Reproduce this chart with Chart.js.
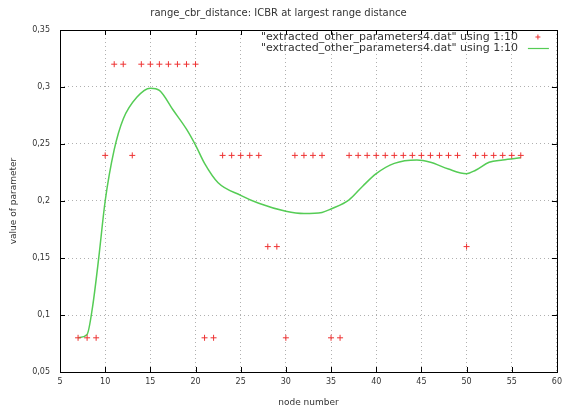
<!DOCTYPE html>
<html>
<head>
<meta charset="utf-8">
<script src="https://cdn.jsdelivr.net/npm/chart.js@4/dist/chart.umd.min.js"></script>
<style>
  html, body { margin: 0; padding: 0; background: #fff; }
  #wrap { width: 567px; height: 412px; }
</style>
</head>
<body>
<div id="wrap"><canvas id="chart" width="567" height="412"></canvas></div>
<script>
const chartTitle = 'range_cbr_distance: ICBR at largest range distance';
const seriesLabel = '"extracted_other_parameters4.dat" using 1:10';

// raw points (red +)
const nodeNumbers = [7, 8, 9, 10, 11, 12, 13, 14, 15, 16, 17, 18, 19, 20, 21, 22, 23, 24, 25, 26, 27, 28, 29, 30, 31,
    32, 33, 34, 35, 36, 37, 38, 39, 40, 41, 42, 43, 44, 45, 46, 47, 48, 49, 50, 51, 52, 53, 54, 55, 56];
const paramValues = [0.08, 0.08, 0.08, 0.24, 0.32, 0.32, 0.24, 0.32, 0.32, 0.32, 0.32, 0.32, 0.32, 0.32, 0.08, 0.08,
    0.24, 0.24, 0.24, 0.24, 0.24, 0.16, 0.16, 0.08, 0.24, 0.24, 0.24, 0.24, 0.08, 0.08,
    0.24, 0.24, 0.24, 0.24, 0.24, 0.24, 0.24, 0.24, 0.24, 0.24, 0.24, 0.24, 0.24, 0.16,
    0.24, 0.24, 0.24, 0.24, 0.24, 0.24];

// smoothed curve (green)
const curveNodes = [7, 8, 8.6, 9.3, 10, 11, 12, 13.5, 15, 16, 17.5, 19, 20, 21, 22.5, 25, 27, 30, 32, 34, 35, 37,
    38.5, 40, 42, 44.5, 46, 48, 50, 51, 52.5, 54, 56];
const curveValues = [0.08, 0.083, 0.107, 0.151, 0.2, 0.245, 0.272, 0.291, 0.299, 0.297, 0.28, 0.263, 0.249, 0.233,
    0.216, 0.205, 0.198, 0.191, 0.189, 0.19, 0.193, 0.201, 0.213, 0.224, 0.233, 0.236, 0.234, 0.228, 0.224, 0.227,
    0.234, 0.236, 0.238];

const xTicks = [5, 10, 15, 20, 25, 30, 35, 40, 45, 50, 55, 60];
const yTicks = [0.05, 0.1, 0.15, 0.2, 0.25, 0.3, 0.35];
const yTickLabels = ['0,05', '0,1', '0,15', '0,2', '0,25', '0,3', '0,35'];

const fontFamily = 'DejaVu Sans';
const textColor = '#333';
const pointColor = '#ee3333';
const lineColor = '#55cc55';

// gnuplot style frame: box, inward ticks on all sides, legend inside top right
const gnuplotFrame = {
    id: 'gnuplotFrame',
    afterDatasetsDraw(chart) {
        const ctx = chart.ctx;
        const a = chart.chartArea;
        const xs = chart.scales.x, ys = chart.scales.y;
        ctx.save();
        ctx.strokeStyle = '#000';
        ctx.lineWidth = 1;
        ctx.strokeRect(Math.round(a.left) + 0.5, Math.round(a.top) + 0.5,
            Math.round(a.right - a.left), Math.round(a.bottom - a.top));
        ctx.beginPath();
        xTicks.forEach(v => {
            const px = Math.round(xs.getPixelForValue(v)) + 0.5;
            ctx.moveTo(px, a.bottom); ctx.lineTo(px, a.bottom - 5);
            ctx.moveTo(px, a.top); ctx.lineTo(px, a.top + 5);
        });
        yTicks.forEach(v => {
            const py = Math.round(ys.getPixelForValue(v)) + 0.5;
            ctx.moveTo(a.left, py); ctx.lineTo(a.left + 5, py);
            ctx.moveTo(a.right, py); ctx.lineTo(a.right - 5, py);
        });
        ctx.stroke();

        // legend
        ctx.font = '11px "' + fontFamily + '"';
        ctx.fillStyle = textColor;
        ctx.textAlign = 'right';
        ctx.textBaseline = 'middle';
        const ds = chart.data.datasets;
        const textRight = a.right - 39;
        ds.forEach((d, i) => {
            const y = a.top + 7 + i * 11;
            ctx.fillText(d.label, textRight, y);
            if (d.showLine) {
                ctx.strokeStyle = d.borderColor;
                ctx.lineWidth = 1.2;
                ctx.beginPath();
                ctx.moveTo(textRight + 10, y + 0.5);
                ctx.lineTo(textRight + 31, y + 0.5);
                ctx.stroke();
            } else {
                ctx.strokeStyle = d.borderColor;
                ctx.lineWidth = 1;
                const cx = textRight + 20;
                ctx.beginPath();
                ctx.moveTo(cx - 2.5, y); ctx.lineTo(cx + 2.5, y);
                ctx.moveTo(cx, y - 2.5); ctx.lineTo(cx, y + 2.5);
                ctx.stroke();
            }
        });
        ctx.restore();
    }
};

const ctx = document.getElementById('chart').getContext('2d');
new Chart(ctx, {
    type: 'scatter',
    data: {
        datasets: [{
            label: seriesLabel,
            data: nodeNumbers.map((n, i) => ({ x: n, y: paramValues[i] })),
            pointStyle: 'cross',
            pointRadius: 3,
            borderColor: pointColor,
            backgroundColor: pointColor,
            borderWidth: 1,
            showLine: false
        }, {
            label: seriesLabel,
            data: curveNodes.map((n, i) => ({ x: n, y: curveValues[i] })),
            showLine: true,
            pointRadius: 0,
            borderColor: lineColor,
            borderWidth: 1.5,
            cubicInterpolationMode: 'monotone',
            fill: false
        }]
    },
    options: {
        responsive: false,
        animation: false,
        layout: { padding: { left: 0, right: 10, top: 0, bottom: 0 } },
        plugins: {
            legend: { display: false },
            tooltip: { enabled: false },
            title: {
                display: true,
                text: chartTitle,
                color: textColor,
                font: { family: fontFamily, size: 10, weight: 'normal' },
                padding: { top: 7, bottom: 11 }
            }
        },
        scales: {
            x: {
                type: 'linear',
                min: 5,
                max: 60,
                afterBuildTicks: s => { s.ticks = xTicks.map(v => ({ value: v })); },
                afterFit: s => { s.height = 40; },
                grid: { color: '#b0b0b0', drawTicks: false },
                border: { display: false, dash: [1, 3] },
                ticks: { padding: 5, color: textColor, font: { family: fontFamily, size: 8 } },
                title: {
                    display: true, text: 'node number', color: textColor,
                    font: { family: fontFamily, size: 9 }, padding: { top: 4, bottom: 4 }
                }
            },
            y: {
                type: 'linear',
                min: 0.05,
                max: 0.35,
                afterBuildTicks: s => { s.ticks = yTicks.map(v => ({ value: v })); },
                afterFit: s => { s.width = 60; },
                grid: { color: '#b0b0b0', drawTicks: false },
                border: { display: false, dash: [1, 3] },
                ticks: {
                    padding: 10, color: textColor, font: { family: fontFamily, size: 8 },
                    callback: (v, i) => yTickLabels[i]
                },
                title: {
                    display: true, text: 'value of parameter', color: textColor,
                    font: { family: fontFamily, size: 9 }, padding: { top: 8, bottom: 8 }
                }
            }
        }
    },
    plugins: [gnuplotFrame]
});
</script>
</body>
</html>
